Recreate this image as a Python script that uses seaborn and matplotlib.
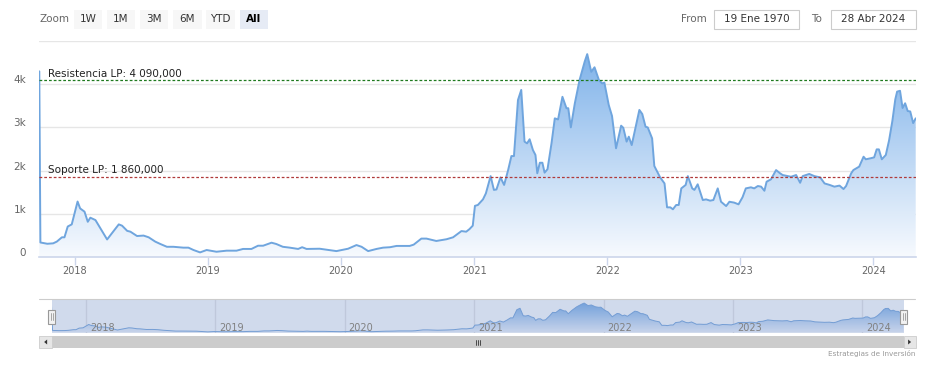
import numpy as np
import pandas as pd
import seaborn as sns
import matplotlib.pyplot as plt
import matplotlib.dates as mdates
from matplotlib.colors import LinearSegmentedColormap
from matplotlib.patches import Rectangle, Polygon
from matplotlib.transforms import ScaledTranslation, blended_transform_factory

dates = [
    "2017-09-26", "2017-09-29", "2017-10-18", "2017-11-03", "2017-11-13", "2017-11-27",
    "2017-12-04", "2017-12-13", "2017-12-24", "2018-01-09", "2018-01-16", "2018-01-28",
    "2018-02-06", "2018-02-13", "2018-02-27", "2018-03-31", "2018-05-02", "2018-05-11",
    "2018-05-25", "2018-06-03", "2018-06-21", "2018-07-09", "2018-07-23", "2018-08-10",
    "2018-08-24", "2018-09-11", "2018-09-29", "2018-10-26", "2018-11-09", "2018-11-23",
    "2018-12-11", "2018-12-29", "2019-01-25", "2019-02-22", "2019-03-21", "2019-04-08",
    "2019-05-01", "2019-05-19", "2019-06-02", "2019-06-25", "2019-07-08", "2019-07-26",
    "2019-08-14", "2019-09-06", "2019-09-17", "2019-09-29", "2019-11-04", "2019-12-20",
    "2020-01-21", "2020-02-13", "2020-02-27", "2020-03-16", "2020-04-08", "2020-04-26",
    "2020-05-15", "2020-06-02", "2020-07-08", "2020-07-19", "2020-08-09", "2020-08-23",
    "2020-09-19", "2020-10-17", "2020-11-04", "2020-11-27", "2020-12-10", "2020-12-19",
    "2020-12-28", "2021-01-03", "2021-01-11", "2021-01-25", "2021-02-02", "2021-02-15",
    "2021-02-24", "2021-03-03", "2021-03-14", "2021-03-24", "2021-04-04", "2021-04-13",
    "2021-04-20", "2021-05-01", "2021-05-10", "2021-05-19", "2021-05-26", "2021-06-02",
    "2021-06-11", "2021-06-18", "2021-06-23", "2021-06-30", "2021-07-07", "2021-07-13",
    "2021-07-21", "2021-08-01", "2021-08-10", "2021-08-19", "2021-08-31", "2021-09-11",
    "2021-09-16", "2021-09-23", "2021-10-04", "2021-10-17", "2021-10-31", "2021-11-07",
    "2021-11-18", "2021-11-27", "2021-12-09", "2021-12-18", "2021-12-24", "2022-01-05",
    "2022-01-14", "2022-01-25", "2022-02-08", "2022-02-14", "2022-02-23", "2022-03-01",
    "2022-03-09", "2022-03-19", "2022-03-30", "2022-04-07", "2022-04-16", "2022-04-22",
    "2022-05-04", "2022-05-10", "2022-05-26", "2022-06-07", "2022-06-14", "2022-06-23",
    "2022-06-30", "2022-07-09", "2022-07-16", "2022-07-23", "2022-08-04", "2022-08-10",
    "2022-08-22", "2022-08-28", "2022-09-06", "2022-09-20", "2022-09-29", "2022-10-10",
    "2022-10-19", "2022-10-31", "2022-11-09", "2022-11-23", "2022-12-02", "2022-12-15",
    "2022-12-27", "2023-01-07", "2023-01-16", "2023-01-30", "2023-02-08", "2023-02-18",
    "2023-02-27", "2023-03-08", "2023-03-14", "2023-03-26", "2023-04-09", "2023-04-20",
    "2023-04-27", "2023-05-11", "2023-05-20", "2023-06-03", "2023-06-14", "2023-06-21",
    "2023-07-09", "2023-07-23", "2023-08-08", "2023-08-20", "2023-09-03", "2023-09-16",
    "2023-09-30", "2023-10-11", "2023-10-18", "2023-11-01", "2023-11-07", "2023-11-23",
    "2023-12-05", "2023-12-11", "2023-12-25", "2024-01-03", "2024-01-10", "2024-01-16",
    "2024-01-24", "2024-02-04", "2024-02-13", "2024-02-22", "2024-03-01", "2024-03-06",
    "2024-03-14", "2024-03-21", "2024-03-28", "2024-04-04", "2024-04-11", "2024-04-19",
    "2024-04-26",
]
values = [
    4300, 330, 300, 310, 350, 450,
    450, 700, 750, 1280, 1120, 1045,
    810, 905, 850, 400, 750, 720,
    600, 580, 480, 490, 450, 350,
    295, 230, 230, 210, 210, 155,
    100, 155, 115, 140, 140, 180,
    180, 255, 255, 325, 295, 230,
    210, 180, 220, 180, 185, 130,
    185, 270, 230, 130, 180, 210,
    220, 250, 250, 280, 420, 420,
    365, 405, 450, 595, 580, 640,
    720, 1180, 1200, 1330, 1470, 1870,
    1550, 1560, 1840, 1665, 2010, 2335,
    2335, 3635, 3870, 2670, 2630, 2725,
    2475, 2360, 1935, 2180, 2180, 1950,
    2030, 2630, 3210, 3185, 3710, 3445,
    3445, 3000, 3560, 4100, 4525, 4700,
    4290, 4395, 4100, 4020, 4040, 3520,
    3265, 2515, 3040, 2990, 2670, 2785,
    2590, 2980, 3405, 3310, 3015, 3000,
    2745, 2105, 1840, 1700, 1145, 1145,
    1100, 1200, 1200, 1585, 1665, 1870,
    1585, 1550, 1680, 1315, 1330, 1300,
    1315, 1585, 1275, 1175, 1275, 1255,
    1215, 1380, 1585, 1610, 1585, 1640,
    1625, 1530, 1740, 1795, 2010, 1935,
    1895, 1870, 1855, 1895, 1715, 1870,
    1920, 1870, 1840, 1700, 1665, 1625,
    1650, 1570, 1640, 1935, 2010, 2090,
    2320, 2260, 2285, 2305, 2490, 2490,
    2260, 2360, 2700, 3150, 3650, 3830,
    3850, 3450, 3560, 3380, 3370, 3100,
    3210,
]
resistance = 4090
support = 1860
years = ["2018", "2019", "2020", "2021", "2022", "2023", "2024"]
y_ticks = [0, 1000, 2000, 3000, 4000, 5000]
y_labels = ["0", "1k", "2k", "3k", "4k", ""]
zoom_buttons = ["1W", "1M", "3M", "6M", "YTD", "All"]
date_from = "19 Ene 1970"
date_to = "28 Abr 2024"
credit = "Estrategias de Inversión"

df = pd.DataFrame({"fecha": pd.to_datetime(dates), "valor": values})
year_dates = pd.to_datetime([f"{y}-01-01" for y in years])

sns.set_theme(style="white")
plt.rcParams["font.family"] = ["DejaVu Sans"]

W, H = 926, 365
fig = plt.figure(figsize=(W / 100, H / 100), dpi=100)
fig.patch.set_facecolor("white")


def px_axes(x0, y0, x1, y1):
    return fig.add_axes([x0 / W, 1 - y1 / H, (x1 - x0) / W, (y1 - y0) / H])


def fmt_es(v):
    return f"{v:,.3f}".replace(",", " ").replace(".", ",")


def gradient_fill(a, x, y, top, c0, c1, z):
    xn = mdates.date2num(x)
    poly = a.fill_between(xn, y, 0, color="none", lw=0)
    path = poly.get_paths()[0]
    cmap = LinearSegmentedColormap.from_list("grad", [c0, c1])
    grad = np.linspace(0, 1, 256).reshape(-1, 1)
    im = a.imshow(grad, extent=[xn[0], xn[-1], 0, top], origin="lower",
                  aspect="auto", cmap=cmap, zorder=z)
    im.set_clip_path(path, transform=a.transData)


# main chart
ax = px_axes(39.3, 41.2, 915.7, 256.7)
gradient_fill(ax, df["fecha"], df["valor"], max(values), "#f7fafe", "#80b3ea", 1)
sns.lineplot(data=df, x="fecha", y="valor", ax=ax, color="#6fa5de", lw=1.4, zorder=3)
ax.set_xlim(df["fecha"].iloc[0], df["fecha"].iloc[-1])
ax.set_ylim(0, 5000)
ax.set_xlabel("")
ax.set_ylabel("")
ax.set_yticks(y_ticks)
ax.set_yticklabels(y_labels)
ax.grid(axis="y", color="#e6e6e6", lw=1)
ax.set_axisbelow(True)
ax.tick_params(axis="y", length=0, pad=9.5, labelsize=7.5, labelcolor="#666666")
for lab in ax.get_yticklabels():
    lab.set_transform(lab.get_transform() + ScaledTranslation(0, 0.05, fig.dpi_scale_trans))
ax.set_xticks(year_dates)
ax.set_xticklabels(years)
ax.tick_params(axis="x", length=6, width=1, color="#ccd6eb", pad=1,
               labelsize=7, labelcolor="#666666", bottom=True)
for s in ["top", "left", "right"]:
    ax.spines[s].set_visible(False)
ax.spines["bottom"].set_color("#ccd6eb")
ax.spines["bottom"].set_linewidth(1.2)

for val, col, name in [(resistance, "#1f7a1f", "Resistencia LP"), (support, "#b03a3a", "Soporte LP")]:
    ax.axhline(val, color=col, lw=0.9, ls=(0, (2.2, 1.6)), zorder=4)
    ax.annotate(f"{name}: {fmt_es(val)}", xy=(0, val), xycoords=("axes fraction", "data"),
                xytext=(6.3, 4.6), textcoords="offset points", ha="left", va="center",
                fontsize=7.5, color="#222222", zorder=5)

# navigator
nav = px_axes(51.5, 299.3, 903.5, 332.5)
for d in year_dates:
    nav.axvline(d, color="#e6e6e6", lw=1, zorder=0)
gradient_fill(nav, df["fecha"], df["valor"], max(values), "#f0f5fc", "#78ace6", 1)
sns.lineplot(data=df, x="fecha", y="valor", ax=nav, color="#7aa8dc", lw=0.7, zorder=2)
nav.set_xlim(df["fecha"].iloc[0], df["fecha"].iloc[-1])
nav.set_ylim(0, 5300)
nav.set_xticks([])
nav.set_yticks([])
nav.set_xlabel("")
nav.set_ylabel("")
for s in nav.spines.values():
    s.set_visible(False)
nav.add_patch(Rectangle((0, 0), 1, 1, transform=nav.transAxes, color="#6685c2",
                        alpha=0.3, lw=0, zorder=4))
ntr = blended_transform_factory(nav.transData, nav.transAxes)
for d, y in zip(year_dates, years):
    nav.text(d, 0, y, transform=ntr + ScaledTranslation(0.04, 0.048, fig.dpi_scale_trans),
             ha="left", va="center", fontsize=7, color="#808080", zorder=6)

# interface elements in pixel coordinates
ui = fig.add_axes([0, 0, 1, 1], zorder=10)
ui.set_xlim(0, W)
ui.set_ylim(H, 0)
ui.axis("off")
ui.patch.set_alpha(0)

ui.text(39, 19.5, "Zoom", ha="left", va="center", fontsize=7.5, color="#666666")
btn_x = [(74, 102), (107, 135), (140, 168), (173, 202), (206, 235), (240, 268)]
for (x0, x1), b in zip(btn_x, zoom_buttons):
    sel = b == "All"
    ui.add_patch(Rectangle((x0, 9.5), x1 - x0, 19.5, color="#e6ebf5" if sel else "#f7f7f7", lw=0))
    ui.text((x0 + x1) / 2, 19.5, b, ha="center", va="center", fontsize=7.5,
            color="#000000" if sel else "#333333", fontweight="bold" if sel else "normal")

ui.text(681, 19.5, "From", ha="left", va="center", fontsize=7.5, color="#666666")
ui.text(811, 19.5, "To", ha="left", va="center", fontsize=7.5, color="#666666")
for (x0, x1), t in [((714, 799), date_from), ((831, 916), date_to)]:
    ui.add_patch(Rectangle((x0, 10), x1 - x0, 19, facecolor="white", edgecolor="#cccccc", lw=0.8))
    ui.text((x0 + x1) / 2, 19.5, t, ha="center", va="center", fontsize=7.5, color="#333333")

# navigator outline
ui.plot([39, 915], [299.3, 299.3], color="#cccccc", lw=0.8)

# handles
for hx in [51.5, 903.5]:
    ui.add_patch(Rectangle((hx - 3.5, 309.5), 7, 14, facecolor="#f2f2f2", edgecolor="#999999", lw=0.8))
    for dx in [-1, 1]:
        ui.plot([hx + dx, hx + dx], [313, 320], color="#999999", lw=0.6)

# scrollbar
sb_top, sb_bot = 335.7, 348.3
ui.add_patch(Rectangle((52, sb_top), 851.5, sb_bot - sb_top, facecolor="#cccccc", lw=0))
for x0, x1, d in [(39.3, 52, -1), (903.5, 915.7, 1)]:
    ui.add_patch(Rectangle((x0, sb_top), x1 - x0, sb_bot - sb_top, facecolor="#e6e6e6",
                           edgecolor="#cccccc", lw=0.6))
    cx, cy = (x0 + x1) / 2, (sb_top + sb_bot) / 2
    ui.add_patch(Polygon([[cx - 1.5 * d, cy - 2.5], [cx - 1.5 * d, cy + 2.5], [cx + 1.5 * d, cy]],
                         closed=True, color="#333333", lw=0))
cx = (52 + 903.5) / 2
for dx in [-2, 0, 2]:
    ui.plot([cx + dx, cx + dx], [339.5, 344.5], color="#333333", lw=0.6)

ui.text(915, 353.3, credit, ha="right", va="center", fontsize=5.2, color="#999999")

fig.savefig("out.png", dpi=100, facecolor="white")
